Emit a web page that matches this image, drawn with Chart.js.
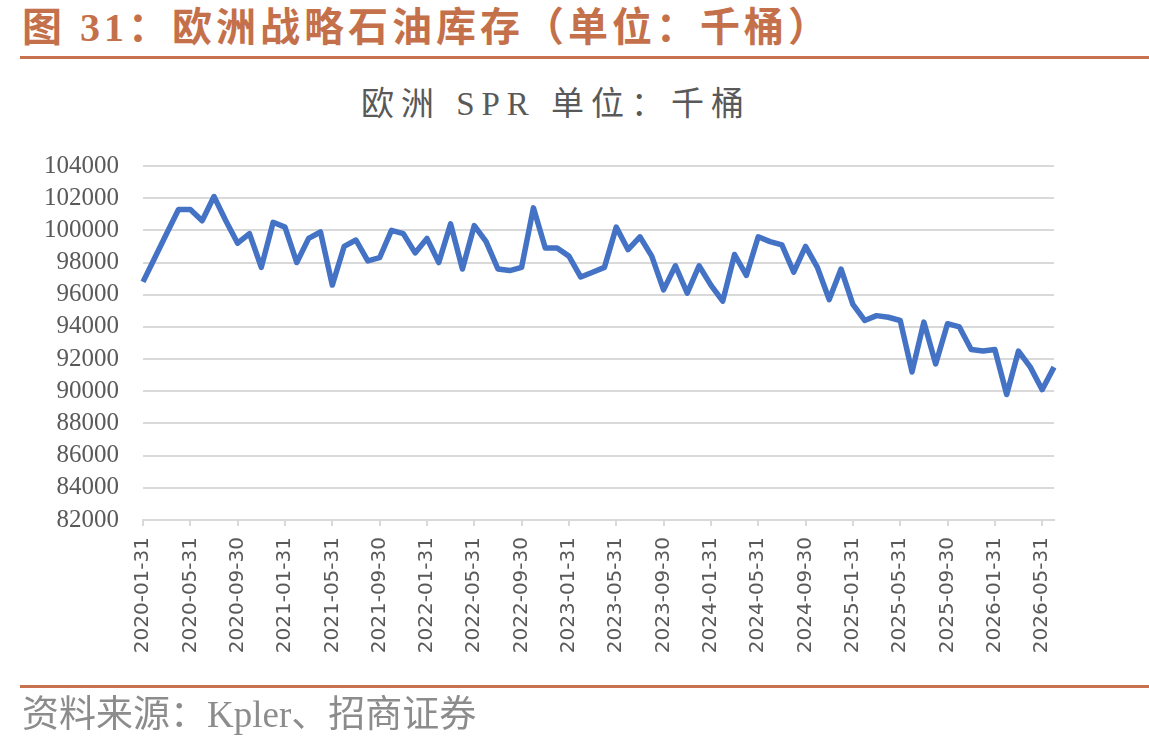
<!DOCTYPE html>
<html>
<head>
<meta charset="utf-8">
<script src="https://cdn.jsdelivr.net/npm/chart.js@4.4.1/dist/chart.umd.min.js"></script>
<style>
  html, body { margin: 0; padding: 0; background: #ffffff; }
  body { width: 1149px; height: 749px; position: relative; overflow: hidden; }
  #wrap { position: absolute; left: 0; top: 0; width: 1149px; height: 749px; }
  .hdr { position: absolute; left: 22px; top: 3px; font-family: "Liberation Serif", "Noto Sans CJK SC", serif; font-weight: bold; font-size: 40px; color: #C4714B; letter-spacing: 4px; white-space: nowrap; line-height: 50px; }
  .rule { position: absolute; left: 20px; width: 1129px; height: 3px; background: #C8724F; }
  .ctitle { position: absolute; left: 0; top: 84px; width: 1112px; text-align: center; font-family: "Liberation Serif", "Noto Sans CJK SC", serif; font-size: 33px; color: #595959; letter-spacing: 7px; white-space: nowrap; line-height: 40px; }
  .src { position: absolute; left: 22px; top: 692px; font-family: "Liberation Serif", "Noto Sans CJK SC", serif; font-size: 37px; color: #8C8C8C; white-space: nowrap; line-height: 46px; }
</style>
</head>
<body>
<div class="hdr">图 31：欧洲战略石油库存（单位：千桶）</div>
<div class="rule" style="top:56px"></div>
<div class="ctitle">欧洲 SPR 单位：千桶</div>
<div id="wrap"><canvas id="c" width="1149" height="749"></canvas></div>
<div class="rule" style="top:685px"></div>
<div class="src">资料来源：Kpler、招商证券</div>
<script>
const dates = [
  "2020-01-31","2020-02-29","2020-03-31","2020-04-30","2020-05-31","2020-06-30","2020-07-31","2020-08-31","2020-09-30","2020-10-31","2020-11-30","2020-12-31",
  "2021-01-31","2021-02-28","2021-03-31","2021-04-30","2021-05-31","2021-06-30","2021-07-31","2021-08-31","2021-09-30","2021-10-31","2021-11-30","2021-12-31",
  "2022-01-31","2022-02-28","2022-03-31","2022-04-30","2022-05-31","2022-06-30","2022-07-31","2022-08-31","2022-09-30","2022-10-31","2022-11-30","2022-12-31",
  "2023-01-31","2023-02-28","2023-03-31","2023-04-30","2023-05-31","2023-06-30","2023-07-31","2023-08-31","2023-09-30","2023-10-31","2023-11-30","2023-12-31",
  "2024-01-31","2024-02-29","2024-03-31","2024-04-30","2024-05-31","2024-06-30","2024-07-31","2024-08-31","2024-09-30","2024-10-31","2024-11-30","2024-12-31",
  "2025-01-31","2025-02-28","2025-03-31","2025-04-30","2025-05-31","2025-06-30","2025-07-31","2025-08-31","2025-09-30","2025-10-31","2025-11-30","2025-12-31",
  "2026-01-31","2026-02-28","2026-03-31","2026-04-30","2026-05-31","2026-06-30"
];
const europeSPR = [
  96800, 98300, 99800, 101300, 101300, 100600, 102100, 100600, 99200, 99800, 97700, 100500,
  100200, 98000, 99500, 99900, 96600, 99000, 99400, 98100, 98300, 100000, 99800, 98600,
  99500, 98000, 100400, 97600, 100300, 99300, 97600, 97500, 97700, 101400, 98900, 98900,
  98400, 97100, 97400, 97700, 100200, 98800, 99600, 98400, 96300, 97800, 96100, 97800,
  96600, 95600, 98500, 97200, 99600, 99300, 99100, 97400, 99000, 97700, 95700, 97600,
  95400, 94400, 94700, 94600, 94400, 91200, 94300, 91700, 94200, 94000, 92600, 92500,
  92600, 89800, 92500, 91500, 90100, 91500
];
const yMin = 82000;
const yMax = 104000;
const yStep = 2000;
const labelEvery = 4;

new Chart(document.getElementById('c'), {
  type: 'line',
  data: {
    labels: dates,
    datasets: [{
      label: '欧洲 SPR',
      data: europeSPR,
      borderColor: '#4472C4',
      backgroundColor: '#4472C4',
      borderWidth: 5.5,
      pointRadius: 0,
      pointHoverRadius: 0,
      tension: 0,
      borderJoinStyle: 'round',
      fill: false
    }]
  },
  options: {
    responsive: false,
    animation: false,
    devicePixelRatio: 1,
    layout: { padding: { top: 166, left: 0, right: 95, bottom: 0 } },
    plugins: { legend: { display: false }, title: { display: false }, tooltip: { enabled: false } },
    scales: {
      x: {
        type: 'category',
        offset: false,
        afterBuildTicks: (scale) => { scale.ticks = scale.ticks.filter((t, i) => i % labelEvery === 0); },
        afterFit: (scale) => { scale.height = 749 - 520; },
        grid: { display: true, drawOnChartArea: false, drawTicks: true, tickLength: 6, color: '#D9D9D9', lineWidth: 2 },
        border: { display: true, color: '#D9D9D9', width: 2 },
        ticks: {
          autoSkip: false, minRotation: 90, maxRotation: 90, padding: 11,
          color: '#595959',
          font: { family: '"DejaVu Sans", sans-serif', size: 20 }
        }
      },
      y: {
        min: yMin, max: yMax,
        afterFit: (scale) => { scale.width = 143; },
        grid: { color: '#D9D9D9', lineWidth: 2, drawTicks: false },
        border: { display: false },
        ticks: {
          autoSkip: false,
          stepSize: yStep, padding: 24, color: '#595959',
          font: { family: '"Liberation Serif", "Times New Roman", serif', size: 25 },
          callback: (v) => String(v)
        }
      }
    }
  }
});
</script>
</body>
</html>
